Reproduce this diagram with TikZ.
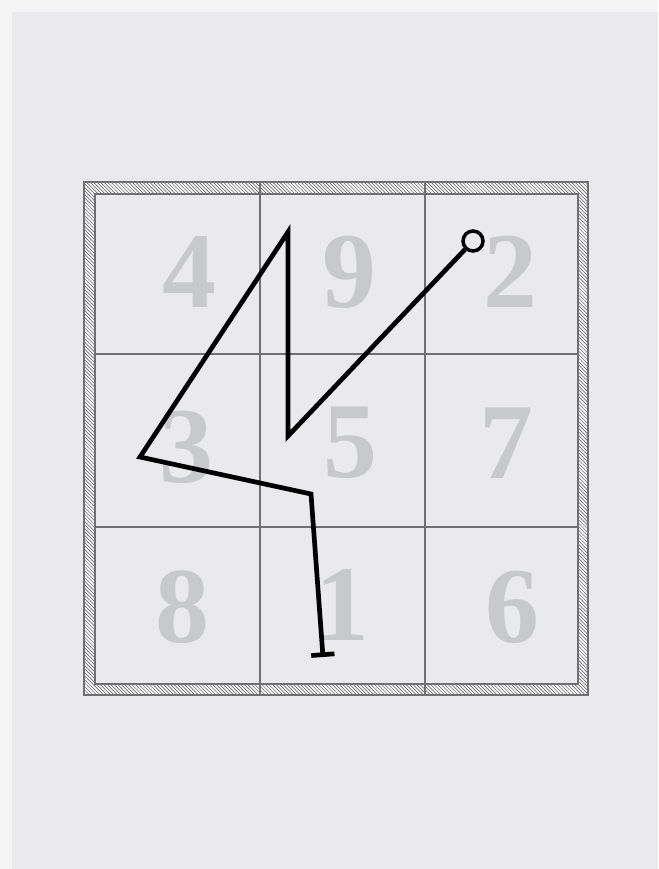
\documentclass[tikz,border=0pt]{standalone}
\usepackage{fontspec}
\setmainfont{Liberation Serif}
\usepackage{tikz}
\usetikzlibrary{arrows.meta,patterns}
\definecolor{cPaper}{RGB}{234,234,236}
\definecolor{cEdge}{RGB}{245,245,246}
\definecolor{cGrid}{RGB}{112,112,114}
\definecolor{cDigit}{RGB}{200,201,203}

\begin{document}
\begin{tikzpicture}[
  x=0.03cm, y=-0.03cm,
  digit/.style={text=cDigit, font=\fontsize{92}{92}\selectfont\bfseries, inner sep=0pt},
  gridline/.style={draw=cGrid, line width=1.6pt},
  trail/.style={draw=black, line width=4pt, line join=miter},
  startdot/.style={circle, draw=black, line width=3pt, fill=cPaper, minimum size=0.6cm, inner sep=0pt},
]
\useasboundingbox (0,0) rectangle (658,869);
% paper
\fill[cEdge] (0,0) rectangle (658,869);
\fill[cPaper] (12,12) rectangle (658,869);
% hatched frame
\fill[white!60!cPaper, even odd rule]
  (84,182) rectangle (588,695) (95,194) rectangle (578,684);
\fill[pattern=north west lines, pattern color=cGrid!80!black, even odd rule]
  (84,182) rectangle (588,695) (95,194) rectangle (578,684);
\draw[gridline] (84,182) rectangle (588,695);
\draw[gridline] (95,194) rectangle (578,684);
% cells
\draw[gridline] (260,182) -- (260,695);
\draw[gridline] (425,182) -- (425,695);
\draw[gridline] (95,354) -- (578,354);
\draw[gridline] (95,527) -- (578,527);
% numbers
\node[digit] (d4) at (189,272) {4};
\node[digit] (d9) at (349,272) {9};
\node[digit] (d2) at (510,272) {2};
\node[digit] (d3) at (186,447) {3};
\node[digit] (d5) at (350,443) {5};
\node[digit] (d7) at (506,443) {7};
\node[digit] (d8) at (182,607) {8};
\node[digit] (d1) at (342,605) {1};
\node[digit] (d6) at (512,607) {6};
% path
\coordinate (v5) at (288,436);
\coordinate (v9) at (288,232);
\coordinate (v3) at (140,457);
\coordinate (v1) at (311,494);
\coordinate (stop) at (323,657);
\node[startdot] (start) at (473,241) {};
\draw[trail, -{Bar[width=0.7cm, line width=4pt]}]
  (start) -- (v5) -- (v9) -- (v3) -- (v1) -- (stop);
\end{tikzpicture}
\end{document}
